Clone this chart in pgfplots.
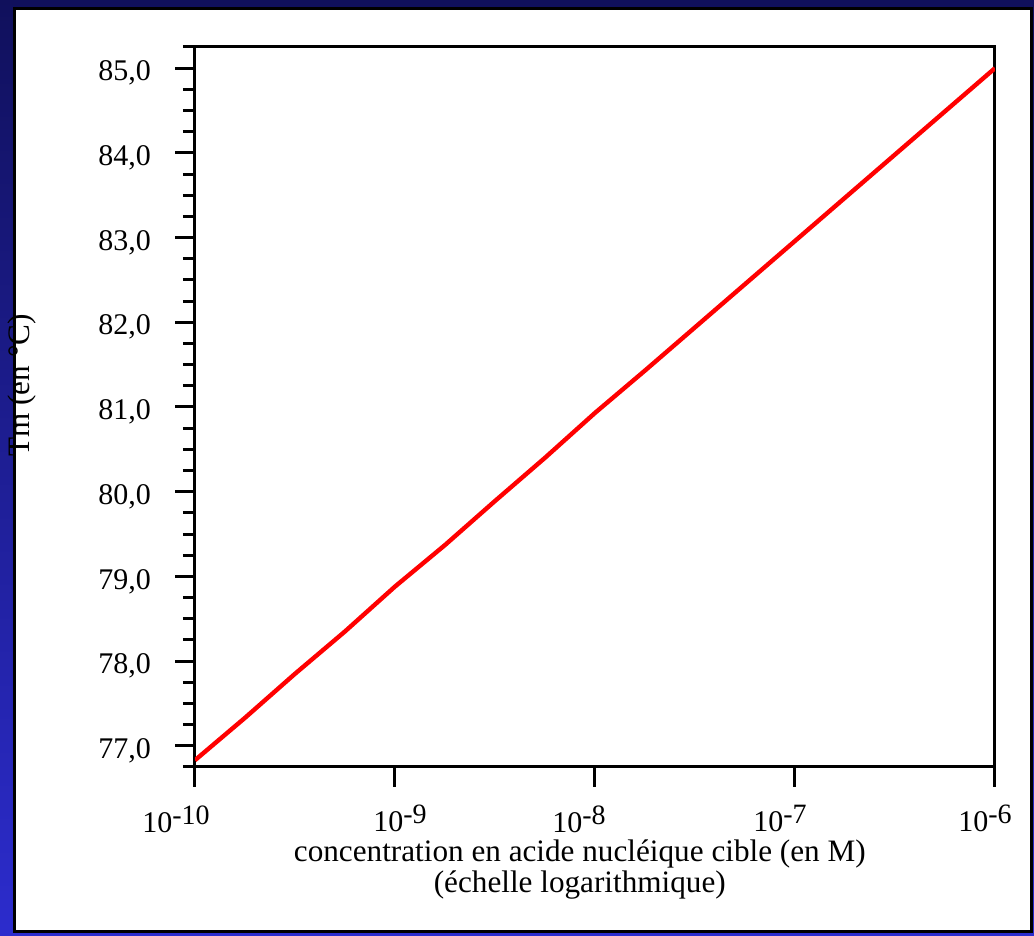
\documentclass[border=0pt]{standalone}
\usepackage{fontspec}
\setmainfont{Liberation Serif}
\usepackage{pgfplots}
\pgfplotsset{compat=1.18}
\definecolor{navytop}{RGB}{16,16,92}
\definecolor{navybot}{RGB}{44,44,205}
% power-of-ten label, #2 = horizontal offset from the tick
\newcommand{\pw}[2]{\makebox[0pt][c]{\hspace{#2}10\raisebox{4pt}{\fontsize{14}{14}\selectfont -#1}}}
\begin{document}
\begin{tikzpicture}
% background and white panel
\shade[top color=navytop, bottom color=navybot] (0pt,0pt) rectangle (517pt,468pt);
\draw[line width=1.5pt, fill=white] (7.25pt,2.25pt) rectangle (515.5pt,463.5pt);
\begin{axis}[
    at={(97.5pt,84.5pt)}, anchor=south west,
    scale only axis,
    width=400pt, height=360pt,
    xmode=log,
    xmin=1e-10, xmax=1e-6,
    ymin=76.75, ymax=85.25,
    xtick={1e-10,1e-9,1e-8,1e-7,1e-6},
    xticklabels={\pw{10}{-19pt},\pw{9}{5pt},\pw{8}{-16pt},\pw{7}{-15pt},\pw{6}{-10pt}},
    xminorticks=false,
    ytick={77,78,79,80,81,82,83,84,85},
    minor y tick num=3,
    extra y ticks={76.75,85.25},
    extra y tick labels={},
    extra y tick style={major tick length=6pt},
    xtick pos=bottom, ytick pos=left,
    tick align=outside,
    major tick length=10pt, minor tick length=6pt,
    axis line style={line width=1.5pt},
    every tick/.style={black, line width=1.5pt},
    /pgf/number format/.cd, use comma, fixed, fixed zerofill, precision=1, assume math mode=true,
    /pgfplots/.cd,
    tick label style={font=\fontsize{15}{15}\selectfont},
    yticklabel style={xshift=-8.5pt, yshift=-2.5pt},
    xticklabel style={anchor=north, inner sep=0pt, yshift=-9pt},
    xlabel={concentration en acide nucléique cible (en M)\\(échelle logarithmique)},
    xlabel style={font=\fontsize{15.6}{15.2}\selectfont, align=center, inner sep=0pt,
        at={(axis description cs:0.481,-0.101)}, anchor=north},
    ylabel={Tm (en °C)},
    ylabel style={font=\fontsize{15.6}{15.6}\selectfont, inner sep=0pt,
        at={(axis description cs:-0.216,0.53)}, anchor=center},
]

% Tm versus target concentration
\addplot[red, line width=2.2pt] coordinates {
    (1e-10,76.83)
    (1.778e-10,77.33)
    (3.162e-10,77.85)
    (5.623e-10,78.35)
    (1e-9,78.88)
    (1.778e-9,79.37)
    (3.162e-9,79.89)
    (5.623e-9,80.40)
    (1e-8,80.93)
    (1.778e-8,81.43)
    (3.162e-8,81.94)
    (5.623e-8,82.45)
    (1e-7,82.96)
    (1.778e-7,83.47)
    (3.162e-7,83.98)
    (5.623e-7,84.49)
    (1e-6,85.00)
};

\end{axis}
\end{tikzpicture}
\end{document}
